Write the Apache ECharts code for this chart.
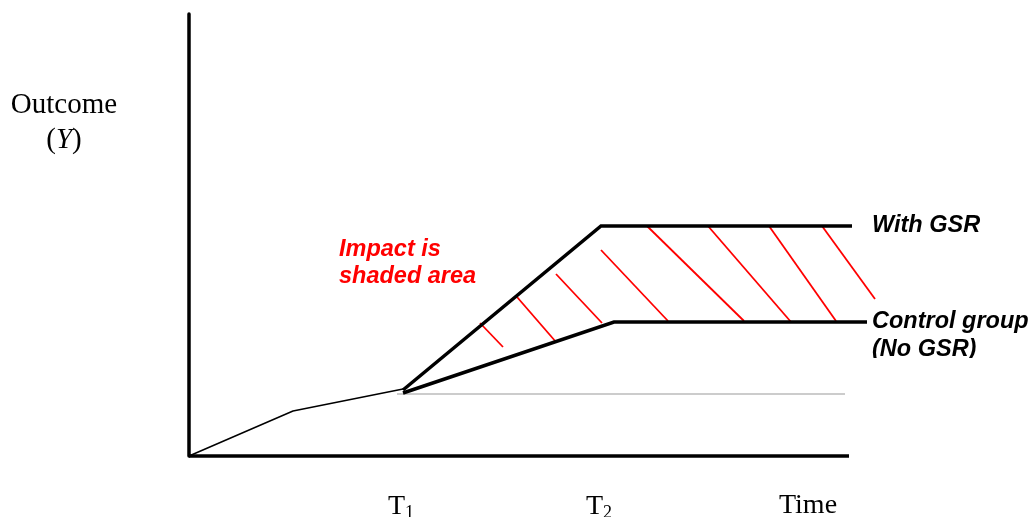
<!DOCTYPE html>
<html><head><meta charset="utf-8">
<script src="https://cdn.jsdelivr.net/npm/echarts@6/dist/echarts.min.js"></script>
<style>html,body{margin:0;padding:0;background:#fff}#c{width:1033px;height:517px}</style>
</head><body><div id="c"></div>
<script>
// Diagram values (x: time units, y: outcome units)
const timeAxisEnd = 660;
const baseline = [[0,0],[104,45],[214,67]];
const withGSR = [[214,66],[412,230],[663,230]];
const control = [[214,63],[425,134],[678,134]];
const reference = [[208,62],[656,62]];
const hatch = [
  [[291,133],[314,109]],
  [[328,159],[367,114]],
  [[367,182],[413,133]],
  [[412,206],[479,135]],
  [[458,230],[555,135]],
  [[519,230],[602,134]],
  [[580,230],[647,135]],
  [[633,230],[686,157]]
];
const tickValues = [212, 410, 619];
const tickLabels = ['{t|T}{s|1}', '{t|T}{s|2}', '{t|Time}'];
const seriesNames = ['With GSR', 'Control group\n(No GSR)'];
const impactText = 'Impact is\nshaded area';

const chart = echarts.init(document.getElementById('c'), null, {renderer:'canvas'});
const serif = '"Liberation Serif","Times New Roman",serif';
const sans = '"Liberation Sans",Arial,sans-serif';
const option = {
  animation: false,
  backgroundColor: '#fff',
  grid: {left: 189, top: 14, width: 720, height: 442, outerBoundsMode: 'none', containLabel: false},
  xAxis: {
    type: 'value', min: 0, max: 720,
    splitLine: {show: false}, axisTick: {show: false},
    axisLine: {show: false},
    axisLabel: {
      show: true, customValues: tickValues, margin: 36,
      formatter: function(v){ return tickLabels[tickValues.indexOf(v)] || ''; },
      rich: {
        t: {fontFamily: serif, fontSize: 28, color: '#000'},
        s: {fontFamily: serif, fontSize: 18, color: '#000', padding: [12,0,0,0]}
      }
    }
  },
  yAxis: {
    type: 'value', min: 0, max: 442,
    splitLine: {show: false}, axisTick: {show: false}, axisLabel: {show: false},
    axisLine: {show: true, lineStyle: {color: '#000', width: 3.5}}
  },
  series: [
    {type: 'line', data: [[0,0],[timeAxisEnd,0]], symbol: 'none', clip: false, z: 4,
     lineStyle: {color: '#000', width: 3.5}},
    {type: 'line', data: reference, symbol: 'none', clip: false, z: 1,
     lineStyle: {color: '#bbbbbb', width: 1.5}},
    {type: 'line', data: baseline, symbol: 'none', clip: false, z: 2,
     lineStyle: {color: '#000', width: 1.5}},
    {type: 'lines', coordinateSystem: 'cartesian2d', clip: false, z: 2,
     data: hatch.map(c => ({coords: c})),
     lineStyle: {color: '#ff0000', width: 1.8, opacity: 1}},
    {type: 'line', name: 'With GSR', data: withGSR, symbol: 'none', clip: false, z: 3,
     lineStyle: {color: '#000', width: 3.5, join: 'miter'}},
    {type: 'line', name: 'Control group', data: control, symbol: 'none', clip: false, z: 3,
     lineStyle: {color: '#000', width: 3.5, join: 'miter'}}
  ]
};
chart.setOption(option);

const pW = chart.convertToPixel({gridIndex: 0}, withGSR[withGSR.length-1]);
const pC = chart.convertToPixel({gridIndex: 0}, control[control.length-1]);
const labelFont = 'italic bold 23.5px ' + sans;
chart.setOption({
  graphic: [
    {type: 'text', style: {
      x: 64, y: 88, align: 'center', verticalAlign: 'top',
      text: '{n|Outcome}\n{p|(}{i|Y}{p|)}',
      rich: {
        n: {fontFamily: serif, fontSize: 29, lineHeight: 35, color: '#000'},
        p: {fontFamily: serif, fontSize: 29, lineHeight: 35, color: '#000'},
        i: {fontFamily: serif, fontSize: 29, lineHeight: 35, fontStyle: 'italic', color: '#000'}
      }
    }},
    {type: 'text', style: {
      x: 339, y: 236, align: 'left', verticalAlign: 'top',
      text: impactText, font: labelFont, fill: '#ff0000', lineHeight: 27
    }},
    {type: 'text', style: {
      x: pW[0] + 20, y: pW[1], align: 'left', verticalAlign: 'middle',
      text: seriesNames[0], font: labelFont, fill: '#000'
    }},
    {type: 'text', z: 10, style: {
      x: pC[0] + 5, y: pC[1] - 14, align: 'left', verticalAlign: 'top',
      text: seriesNames[1], font: labelFont, fill: '#000', lineHeight: 28
    }},
    {type: 'rect', z: 20, shape: {x: 866, y: 358, width: 167, height: 20},
     style: {fill: '#fff'}}
  ]
});
</script></body></html>
